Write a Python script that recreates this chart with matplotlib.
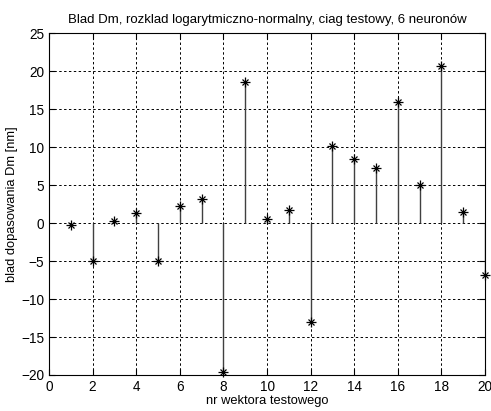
import matplotlib
matplotlib.use("Agg")
import matplotlib.pyplot as plt

plt.rcParams['font.family'] = ['Liberation Sans', 'DejaVu Sans']

x = list(range(1, 21))
values = [-0.26, -4.96, 0.22, 1.27, -4.96, 2.2, 3.16, -19.6, 18.6, 0.53,
          1.7, -13.0, 10.17, 8.4, 7.3, 15.97, 5.04, 20.6, 1.4, -6.9]
xticks = list(range(0, 21, 2))
yticks = list(range(-20, 26, 5))

fig = plt.figure(figsize=(4.91, 4.11), dpi=100)
ax = fig.add_axes([0.0998, 0.0876, 0.888, 0.832])

ax.vlines(x, 0, values, colors='#404040', linewidth=1.0, zorder=3)
ax.plot(x, values, linestyle='none', marker='+', color='black',
        markersize=7, markeredgewidth=0.9, zorder=4, clip_on=False)
ax.plot(x, values, linestyle='none', marker='x', color='black',
        markersize=4, markeredgewidth=0.9, zorder=4, clip_on=False)

ax.set_xlim(0, 20)
ax.set_ylim(-20, 25)
ax.set_xticks(xticks)
ax.set_yticks(yticks)
ax.grid(True, color='black', linestyle=(0, (2.5, 2.5)), linewidth=0.7)
ax.set_axisbelow(True)
ax.tick_params(direction='in', length=4, labelsize=9.8, top=True, right=True)
for s in ax.spines.values():
    s.set_linewidth(0.8)

ax.set_title('Blad Dm, rozklad logarytmiczno-normalny, ciag testowy, 6 neuronów', fontsize=9.5, pad=7)
ax.set_xlabel('nr wektora testowego', fontsize=9.3, labelpad=1)
ax.set_ylabel('blad dopasowania Dm [nm]', fontsize=9.3, labelpad=2)

fig.savefig('out.png', dpi=100)
